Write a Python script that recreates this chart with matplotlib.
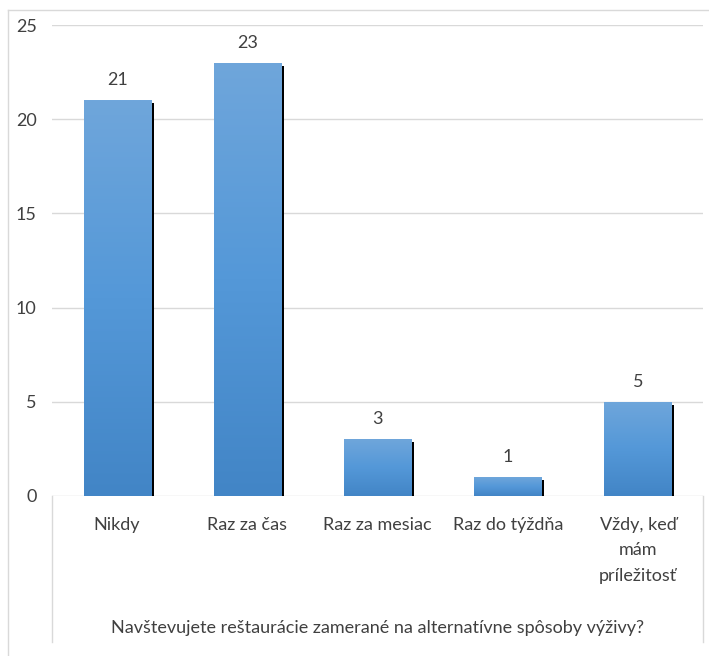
import matplotlib
matplotlib.use("Agg")
import matplotlib.pyplot as plt
import numpy as np
from matplotlib.colors import LinearSegmentedColormap
from matplotlib.transforms import ScaledTranslation
from matplotlib.lines import Line2D

plt.rcParams['font.family'] = ['Lato', 'DejaVu Sans']

categories = ["Nikdy", "Raz za čas", "Raz za mesiac", "Raz do týždňa",
              "Vždy, keď\nmám\npríležitosť"]
values = [21, 23, 3, 1, 5]
y_ticks = [0, 5, 10, 15, 20, 25]
axis_title = "Navštevujete reštaurácie zamerané na alternatívne spôsoby výživy?"

W, H = 709, 656
DPI = 100
FS = 13
text_color = "#404040"
grid_color = "#d9d9d9"

fig = plt.figure(figsize=(W / DPI, H / DPI), dpi=DPI)

def fx(px):
    return px / W

def fy(py):
    return 1 - py / H

ax_left, ax_right, ax_top, ax_bottom = 52, 703, 25, 496
ax = fig.add_axes([fx(ax_left), fy(ax_bottom), fx(ax_right - ax_left), (ax_bottom - ax_top) / H])

x = np.arange(len(categories))
bar_w = 0.515

# shadow bars, shifted right and down
shadow_tf = ax.transData + ScaledTranslation(3 / DPI, -3 / DPI, fig.dpi_scale_trans)
ax.bar(x, values, width=bar_w, color="black", transform=shadow_tf, zorder=2)

bars = ax.bar(x, values, width=bar_w, color="none", zorder=3)
cmap = LinearSegmentedColormap.from_list("bar", ["#6fa6db", "#5498d8", "#4285c6"])
grad = np.linspace(0, 1, 256).reshape(-1, 1)
for rect in bars:
    x0 = rect.get_x()
    h = rect.get_height()
    im = ax.imshow(grad, cmap=cmap, aspect="auto", origin="upper",
                   extent=[x0, x0 + rect.get_width(), 0, h], zorder=3)
    im.set_clip_path(rect)
ax.set_xlim(-0.5, len(categories) - 0.5)
ax.set_ylim(0, 25)

for xi, v in zip(x, values):
    ax.annotate(str(v), (xi, v), xytext=(0, 14.5), textcoords="offset points",
                ha="center", va="center", fontsize=FS, color=text_color)

ax.set_yticks(y_ticks)
ax.set_yticklabels([str(t) for t in y_ticks])
ax.set_xticks(x)
ax.set_xticklabels(categories, linespacing=1.72)
ax.tick_params(axis="both", length=0, labelsize=FS, labelcolor=text_color)
ax.tick_params(axis="y", pad=11)
ax.tick_params(axis="x", pad=15)
ax.grid(axis="y", color=grid_color, linewidth=1)
ax.set_axisbelow(True)
for s in ax.spines.values():
    s.set_visible(False)

# category table box below the plot
box_bottom = 642
for xs in (ax_left, ax_right):
    fig.add_artist(Line2D([fx(xs), fx(xs)], [fy(ax_bottom), fy(box_bottom)],
                          color=grid_color, linewidth=1))

fig.text(fx((ax_left + ax_right) / 2), fy(628), axis_title, ha="center", va="center",
         fontsize=FS, color=text_color)

# chart frame
fig.add_artist(Line2D([fx(8), fx(8)], [fy(10), 0], color=grid_color, linewidth=1))
fig.add_artist(Line2D([fx(8), 1], [fy(10), fy(10)], color=grid_color, linewidth=1))

fig.savefig("out.png", dpi=DPI)
